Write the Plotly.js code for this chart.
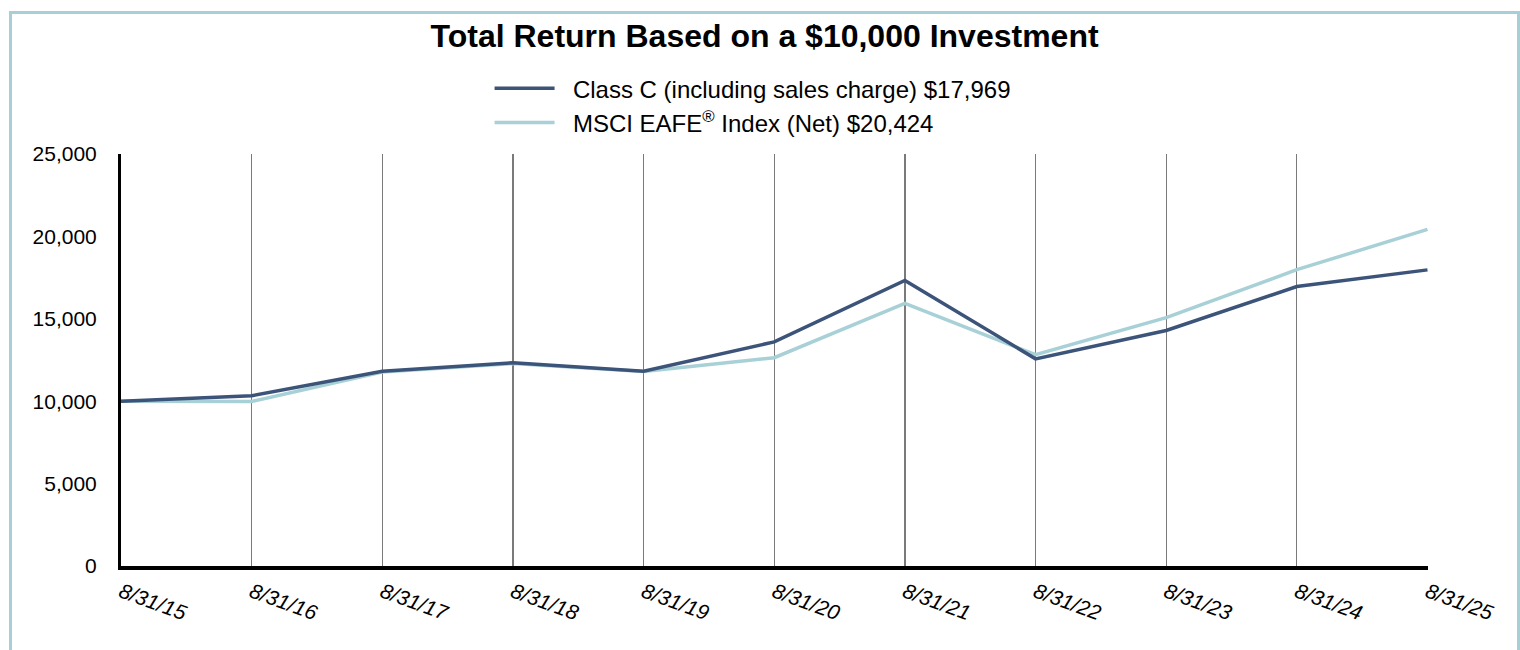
<!DOCTYPE html>
<html>
<head>
<meta charset="utf-8">
<script src="https://cdn.plot.ly/plotly-3.0.1.min.js"></script>
<style>
  html, body { margin: 0; padding: 0; background: #ffffff; }
  #wrap { position: relative; width: 1520px; height: 650px; overflow: hidden; }
  #chart { position: absolute; left: 0; top: 0; width: 1520px; height: 650px; }
  #frame { position: absolute; left: 9px; top: 11px; width: 1505px; height: 700px;
           border: 3px solid #a8cfd6; pointer-events: none; }
</style>
</head>
<body>
<div id="wrap">
  <div id="chart"></div>
  <div id="frame"></div>
</div>
<script>
const dates = ["8/31/15","8/31/16","8/31/17","8/31/18","8/31/19","8/31/20","8/31/21","8/31/22","8/31/23","8/31/24","8/31/25"];
const classC = [10000, 10330, 11820, 12330, 11820, 13600, 17330, 12570, 14290, 16960, 17969];
const msciEafe = [10000, 9980, 11770, 12290, 11800, 12640, 15930, 12820, 15070, 17980, 20424];
const classCName = "\u00a0\u00a0Class C (including sales charge) $17,969";
const msciName = "\u00a0\u00a0MSCI EAFE<sup>®</sup> Index (Net) $20,424";
const yTicks = [0, 5000, 10000, 15000, 20000, 25000];

const font = "Liberation Sans, Arial, Helvetica, sans-serif";

const traces = [
  { x: dates, y: msciEafe, name: msciName, type: "scatter", mode: "lines",
    line: { color: "#a8d0d7", width: 3.5 }, legendrank: 2 },
  { x: dates, y: classC, name: classCName, type: "scatter", mode: "lines",
    line: { color: "#3c5479", width: 3.5 }, legendrank: 1 }
];

const layout = {
  width: 1520, height: 650,
  paper_bgcolor: "#ffffff", plot_bgcolor: "#ffffff",
  margin: { l: 121, r: 92, t: 154, b: 84 },
  font: { family: font, color: "#000000" },
  title: { text: "<b>Total Return Based on a $10,000 Investment</b>",
           font: { family: font, size: 32, color: "#000000" },
           x: 0.503, xanchor: "center", y: 0.945, yanchor: "middle" },
  showlegend: true,
  legend: { x: 0.282, y: 1.213, xanchor: "left", yanchor: "top",
            orientation: "v", traceorder: "normal",
            itemwidth: 60, font: { family: font, size: 24, color: "#000000" },
            bgcolor: "rgba(0,0,0,0)" },
  xaxis: {
    type: "category", range: [0, 10.004],
    showgrid: true, gridcolor: "#7a7a7a", gridwidth: 1.3,
    showline: true, linecolor: "#000000", linewidth: 4,
    ticks: "", tickangle: 20, ticklabelstandoff: 2,
    tickfont: { family: font, size: 21, color: "#000000", style: "italic" },
    zeroline: false, fixedrange: true
  },
  yaxis: {
    range: [0, 25000], tickvals: yTicks, tickformat: ",d",
    showgrid: false, zeroline: false,
    showline: true, linecolor: "#000000", linewidth: 3,
    ticks: "", ticklabelstandoff: 17,
    tickfont: { family: font, size: 21, color: "#000000" },
    fixedrange: true
  }
};

Plotly.newPlot("chart", traces, layout, { displayModeBar: false, staticPlot: true });
</script>
</body>
</html>
